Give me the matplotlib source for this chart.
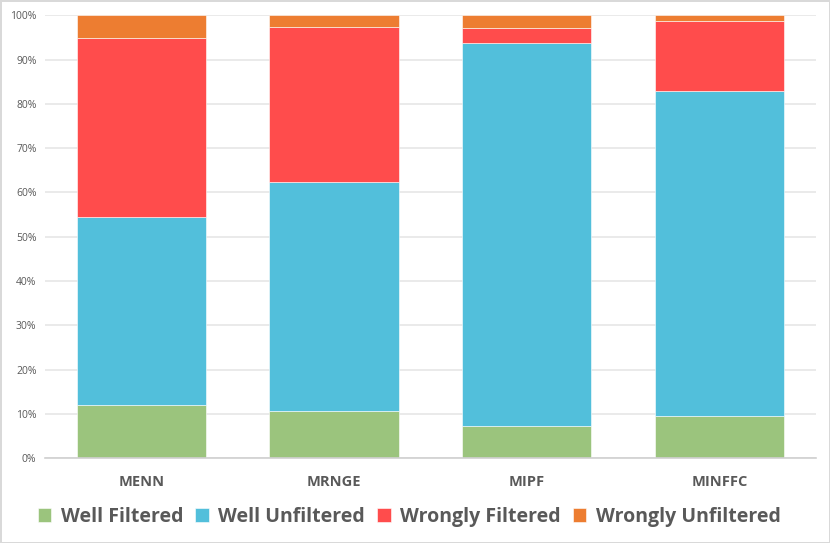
import matplotlib.pyplot as plt
import numpy as np

# Data (percent of instances)
categories = ["MENN", "MRNGE", "MIPF", "MINFFC"]
well_filtered = [12.1, 10.6, 7.2, 9.5]
well_unfiltered = [42.4, 51.7, 86.5, 73.4]
wrongly_filtered = [40.3, 35.1, 3.4, 15.8]
wrongly_unfiltered = [5.2, 2.6, 2.9, 1.3]

series = [
    ("Well Filtered", well_filtered, "#9BC47D"),
    ("Well Unfiltered", well_unfiltered, "#52BFDB"),
    ("Wrongly Filtered", wrongly_filtered, "#FF4C4C"),
    ("Wrongly Unfiltered", wrongly_unfiltered, "#ED7D31"),
]

plt.rcParams["font.family"] = ["Open Sans", "DejaVu Sans"]

fig = plt.figure(figsize=(8.3, 5.43), dpi=100)
fig.patch.set_edgecolor("#D9D9D9")
fig.patch.set_linewidth(2)
ax = fig.add_axes([0.054, 0.156, 0.929, 0.816])

x = np.arange(len(categories))
bottom = np.zeros(len(categories))
for label, vals, color in series:
    vals = np.array(vals)
    ax.bar(x, vals, width=0.67, bottom=bottom, color=color, label=label,
           edgecolor="white", linewidth=0.4, zorder=2)
    bottom += vals

ax.set_xlim(-0.5, len(categories) - 0.5)
ax.set_ylim(0, 100)
ax.set_yticks(np.arange(0, 101, 10))
ax.set_yticklabels([f"{v}%" for v in range(0, 101, 10)], fontsize=7.5, color="#595959")
ax.set_xticks(x)
ax.set_xticklabels(categories, fontsize=10.5, fontweight="bold", color="#595959")
ax.tick_params(axis="both", length=0)
ax.tick_params(axis="x", pad=12)
ax.tick_params(axis="y", pad=6)
ax.grid(axis="y", color="#E6E6E6", linewidth=1.2, zorder=0)
ax.set_axisbelow(True)
for side in ["top", "right", "left"]:
    ax.spines[side].set_visible(False)
ax.spines["bottom"].set_color("#D0D0D0")
ax.spines["bottom"].set_linewidth(1.2)

handles, labels = ax.get_legend_handles_labels()
fig.legend(handles, labels, loc="center", bbox_to_anchor=(0.493, 0.048), ncol=4,
           frameon=False, handlelength=0.7, handleheight=0.7, handletextpad=0.5,
           columnspacing=0.6, prop={"size": 14, "weight": "bold"}, labelcolor="#595959")

plt.savefig("out.png", dpi=100)
